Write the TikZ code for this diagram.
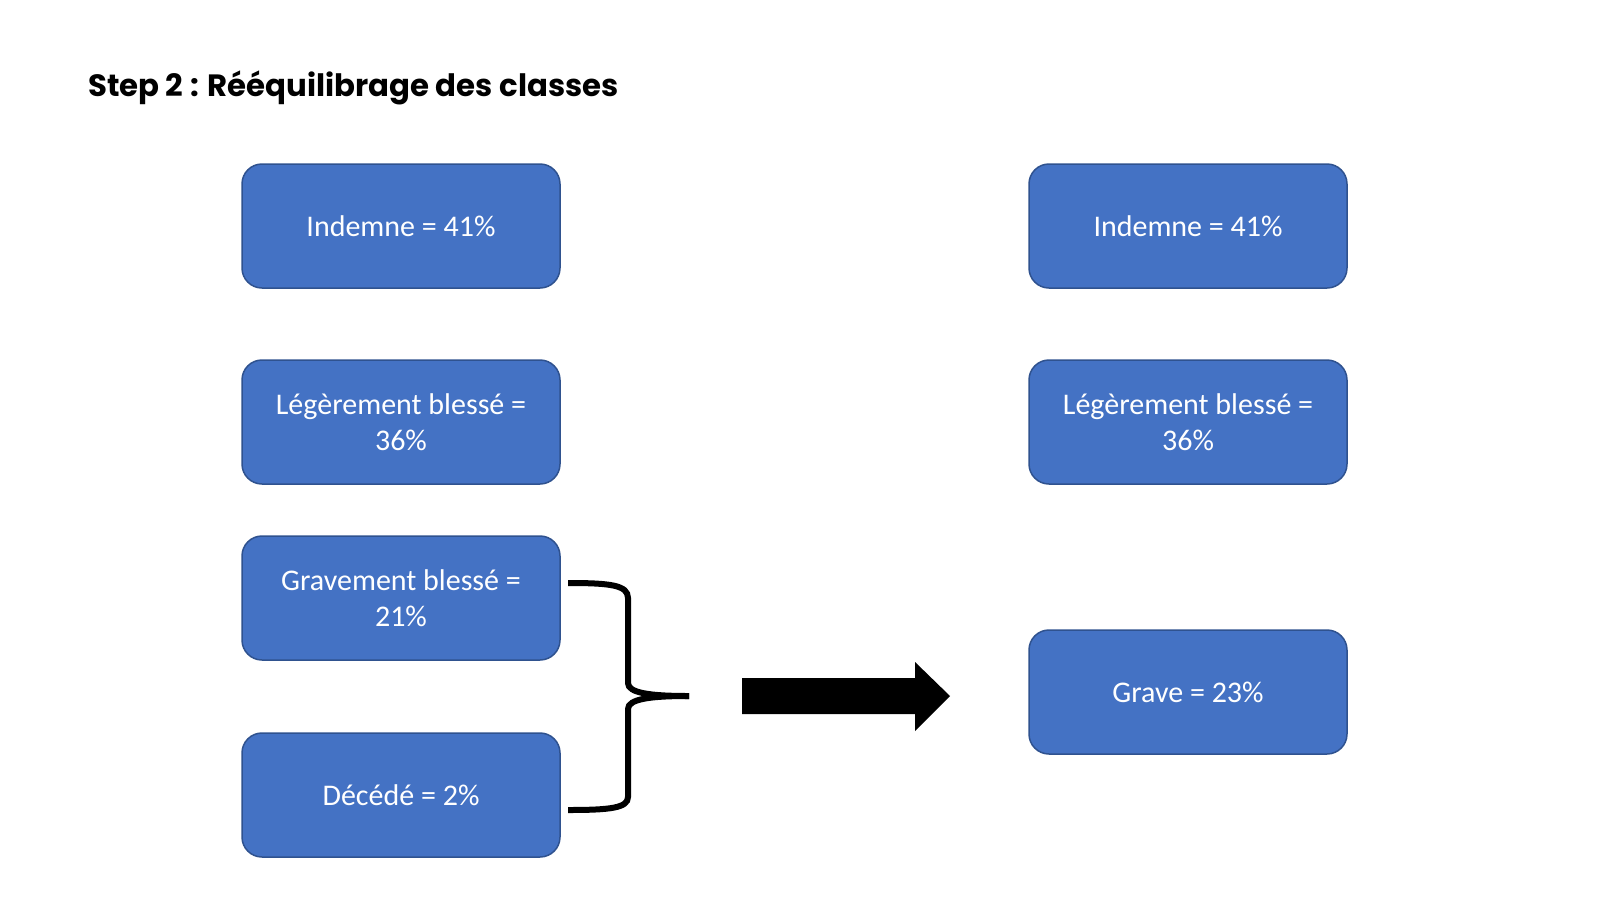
\documentclass[tikz,border=0pt]{standalone}
\usepackage{fontspec}
\setmainfont{Carlito}
\newfontfamily\titlefont{Poppins}
\definecolor{boxblue}{HTML}{4472C4}
\definecolor{boxline}{HTML}{2F528F}
\tikzset{
  classbox/.style={draw=boxline, line width=0.75pt, fill=boxblue, rounded corners=10pt,
    minimum width=159pt, minimum height=62pt, inner sep=0pt, text=white, align=center,
    font=\fontsize{15}{18}\selectfont},
  bracket/.style={line width=3pt}
}
\begin{document}
\begin{tikzpicture}[x=0.5pt,y=-0.5pt]
    \fill[white] (0,0) rectangle (1600,900);
    \useasboundingbox (0,0) rectangle (1600,900);
    \node[anchor=base west, font=\titlefont\bfseries\fontsize{15.4}{18}\selectfont] (title) at (81,96) {Step 2 : Rééquilibrage des classes};
    % classes before
    \node[classbox] (indemneA) at (401,226) {Indemne = 41\%};
    \node[classbox] (legerA) at (401,422) {Légèrement blessé =\\36\%};
    \node[classbox] (graveA) at (401,598) {Gravement blessé =\\21\%};
    \node[classbox] (decedeA) at (401,795) {Décédé = 2\%};
    % classes after
    \node[classbox] (indemneB) at (1188,226) {Indemne = 41\%};
    \node[classbox] (legerB) at (1188,422) {Légèrement blessé =\\36\%};
    \node[classbox] (graveB) at (1188,692) {Grave = 23\%};
    % brace
    \coordinate (btop) at (568,583);
    \coordinate (bbot) at (568,810);
    \coordinate (btip) at (689,696);
    \draw[bracket] (btop) .. controls (610,583) and (628,585) .. (628,598) -- (628,683)
        .. controls (628,693) and (650,696) .. (btip);
    \draw[bracket] (btip) .. controls (650,696) and (628,699) .. (628,709) -- (628,797)
        .. controls (628,808) and (610,810) .. (bbot);
    % arrow
    \coordinate (astart) at (742,696);
    \coordinate (aend) at (950,696);
    \fill ([yshift=9pt]astart) -- (915,678) -- (915,662) -- (aend) -- (915,731)
        -- (915,714) -- ([yshift=-9pt]astart) -- cycle;
\end{tikzpicture}
\end{document}
